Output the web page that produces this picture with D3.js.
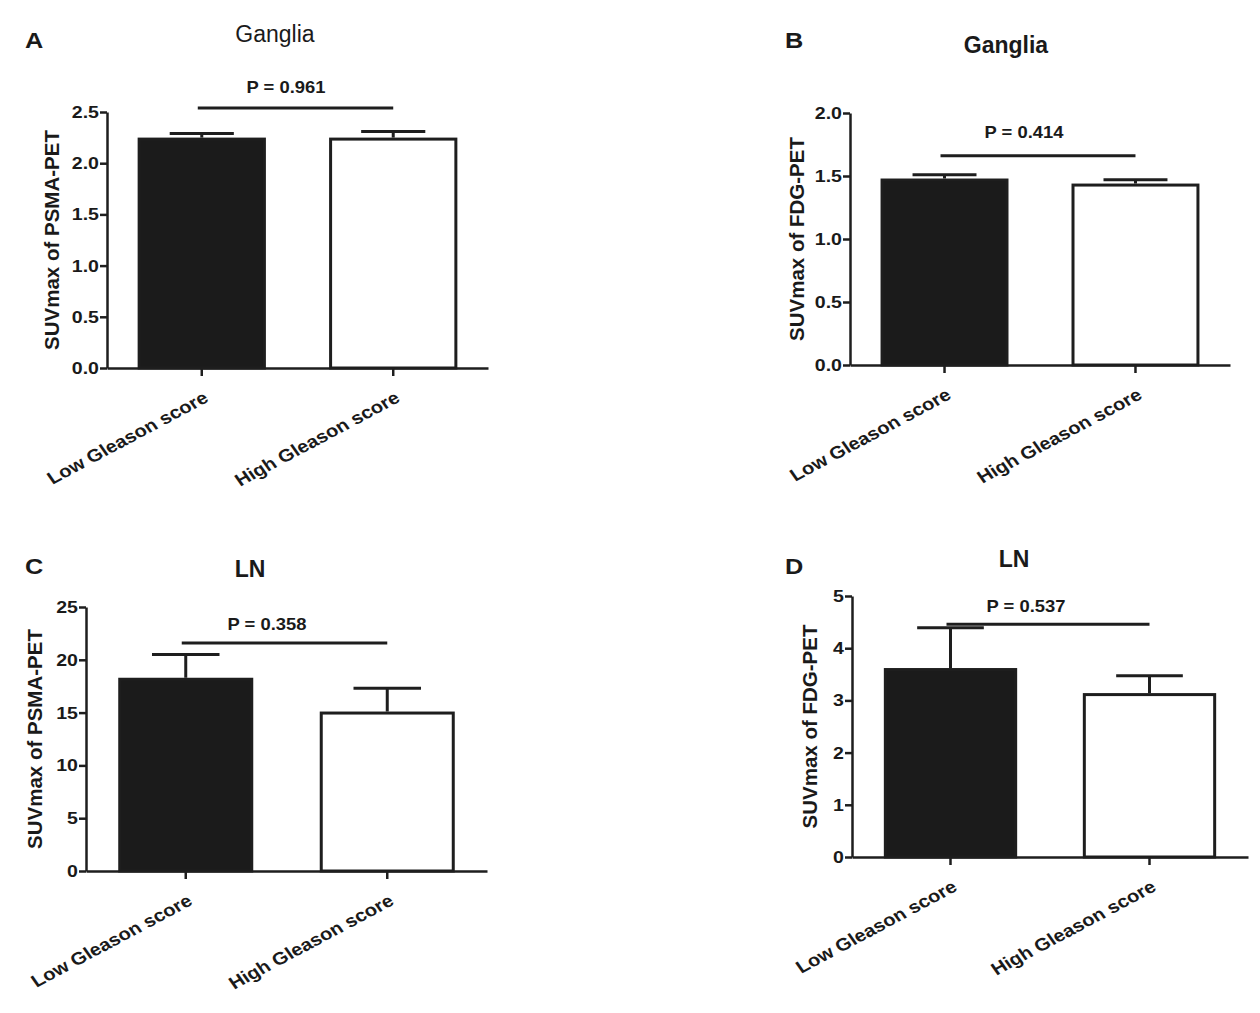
<!DOCTYPE html>
<html>
<head>
<meta charset="utf-8">
<script src="https://cdn.jsdelivr.net/npm/d3@7"></script>
<style>
  body { margin: 0; background: #fff; }
  text { font-family: "Liberation Sans", Arial, sans-serif; fill: #1a1a1a; }
</style>
</head>
<body>
<div id="chart"></div>
<script>
// ---- data ----
const groups = ["Low Gleason score", "High Gleason score"];
const panelLetters = ["A", "B", "C", "D"];
const titles = ["Ganglia", "Ganglia", "LN", "LN"];
const yLabels = ["SUVmax of PSMA-PET", "SUVmax of FDG-PET", "SUVmax of PSMA-PET", "SUVmax of FDG-PET"];
const means = [[2.25, 2.25], [1.48, 1.44], [18.3, 15.1], [3.62, 3.14]];
const sems = [[0.04, 0.06], [0.03, 0.03], [2.2, 2.2], [0.77, 0.33]];
const pValues = ["0.961", "0.414", "0.358", "0.537"];
const bracketY = [2.54, 1.66, 21.6, 4.46];
const yMax = [2.5, 2.0, 25, 5];
const yStep = [0.5, 0.5, 5, 1];
const yFormat = [".1f", ".1f", "d", "d"];
const barFills = ["#1b1b1b", "#ffffff"];

// ---- layout of each panel (pixels) ----
const layouts = [
  {x0: 107, x1: 488, yTop: 112, yBot: 368, letter: [25, 48], title: [275, 42], titleWeight: "normal", yLabX: 52, pLab: [286, 93]},
  {x0: 850, x1: 1230, yTop: 113, yBot: 365, letter: [785, 48], title: [1006, 53], titleWeight: "bold", yLabX: 797, pLab: [1024, 138]},
  {x0: 86, x1: 487, yTop: 607, yBot: 871, letter: [25, 574], title: [250, 577], titleWeight: "bold", yLabX: 35, pLab: [267, 630]},
  {x0: 852, x1: 1248, yTop: 596, yBot: 857, letter: [785, 574], title: [1014, 567], titleWeight: "bold", yLabX: 810, pLab: [1026, 612]}
];

const ink = "#1e1e1e";
// the source figure is a little wider than tall, so flat text is stretched
const stretch = 1.15;

let svg = d3.select("#chart").append("svg")
    .attr("width", 1260)
    .attr("height", 1013);

function panel(i) {
    let L = layouts[i];

    let x = d3.scaleBand()
        .domain(groups)
        .range([L.x0, L.x1])
        .paddingInner(0.33)
        .paddingOuter(0.16);

    let y = d3.scaleLinear()
        .domain([0, yMax[i]])
        .range([L.yBot, L.yTop]);

    let g = svg.append("g");

    // bars
    let data = groups.map((k, j) => ({k: k, m: means[i][j], e: sems[i][j], fill: barFills[j]}));
    g.selectAll("rect.bar")
        .data(data)
        .join("rect")
        .attr("class", "bar")
        .attr("x", d => x(d.k) + 1.5)
        .attr("width", x.bandwidth() - 3)
        .attr("y", d => y(d.m) + 1.5)
        .attr("height", d => y(0) - y(d.m) - 1.5)
        .attr("fill", d => d.fill)
        .attr("stroke", ink)
        .attr("stroke-width", 3);

    // error bars (upper only)
    let cx = d => x(d.k) + x.bandwidth() / 2;
    g.selectAll("line.err")
        .data(data)
        .join("line")
        .attr("x1", cx).attr("x2", cx)
        .attr("y1", d => y(d.m))
        .attr("y2", d => y(d.m + d.e))
        .attr("stroke", ink)
        .attr("stroke-width", 3);
    g.selectAll("line.cap")
        .data(data)
        .join("line")
        .attr("x1", d => cx(d) - x.bandwidth() / 4)
        .attr("x2", d => cx(d) + x.bandwidth() / 4)
        .attr("y1", d => y(d.m + d.e))
        .attr("y2", d => y(d.m + d.e))
        .attr("stroke", ink)
        .attr("stroke-width", 3);

    // axes
    let ticks = d3.range(0, yMax[i] + yStep[i] / 2, yStep[i]);
    let gy = g.append("g")
        .attr("transform", `translate(${L.x0},0)`)
        .call(d3.axisLeft(y).tickValues(ticks).tickFormat(d3.format(yFormat[i]))
            .tickSize(7).tickSizeOuter(0).tickPadding(0));
    let gx = g.append("g")
        .attr("transform", `translate(0,${L.yBot})`)
        .call(d3.axisBottom(x).tickSize(8).tickSizeOuter(0).tickFormat(""));
    g.selectAll(".domain, .tick line")
        .attr("stroke", ink)
        .attr("stroke-width", 2.5);
    gy.selectAll(".tick text")
        .attr("font-size", 17)
        .attr("font-weight", "bold")
        .attr("fill", "#1a1a1a")
        .attr("transform", `scale(${stretch},1)`);

    // rotated category labels
    g.selectAll("text.cat")
        .data(groups)
        .join("text")
        .attr("class", "cat")
        .attr("transform", d => `translate(${x(d) + x.bandwidth() / 2 + 8},${L.yBot + 33}) scale(${stretch},1) rotate(-31.5)`)
        .attr("text-anchor", "end")
        .attr("font-size", 17.5)
        .attr("font-weight", "bold")
        .text(d => d);

    // y axis title
    g.append("text")
        .attr("transform", `translate(${L.yLabX + 7},${(L.yTop + L.yBot) / 2}) rotate(-90)`)
        .attr("text-anchor", "middle")
        .attr("font-size", 20.5)
        .attr("font-weight", "bold")
        .text(yLabels[i]);

    // significance bracket
    g.append("line")
        .attr("x1", x(groups[0]) + x.bandwidth() / 2 - 4)
        .attr("x2", x(groups[1]) + x.bandwidth() / 2)
        .attr("y1", y(bracketY[i]))
        .attr("y2", y(bracketY[i]))
        .attr("stroke", ink)
        .attr("stroke-width", 3);
    g.append("text")
        .attr("transform", `translate(${L.pLab[0]},${L.pLab[1]}) scale(${stretch},1)`)
        .attr("text-anchor", "middle")
        .attr("font-size", 16)
        .attr("font-weight", "bold")
        .text("P = " + pValues[i]);

    // title and panel letter
    g.append("text")
        .attr("x", L.title[0])
        .attr("y", L.title[1])
        .attr("text-anchor", "middle")
        .attr("font-size", 23)
        .attr("font-weight", L.titleWeight)
        .text(titles[i]);
    g.append("text")
        .attr("transform", `translate(${L.letter[0]},${L.letter[1]}) scale(${stretch},1)`)
        .attr("font-size", 22)
        .attr("font-weight", "bold")
        .attr("fill", "#000")
        .text(panelLetters[i]);
}

for (let i = 0; i < 4; i++) panel(i);
</script>
</body>
</html>
